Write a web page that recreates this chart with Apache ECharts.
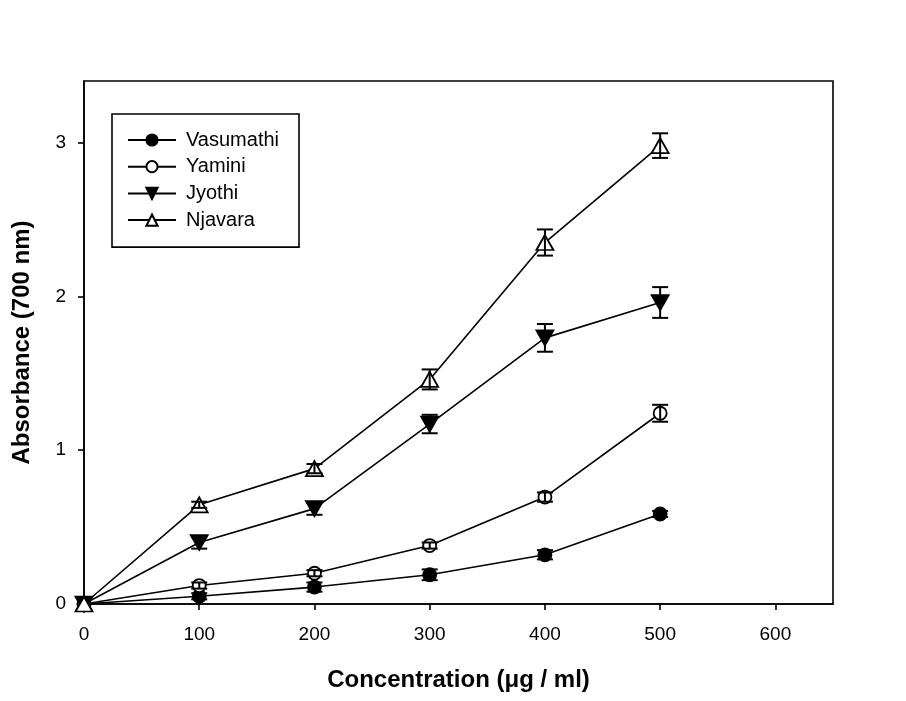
<!DOCTYPE html>
<html lang="en">
<head>
    <meta charset="UTF-8">
    <title>Absorbance vs Concentration</title>
    <script src="https://cdn.jsdelivr.net/npm/echarts@6/dist/echarts.min.js"></script>
    <style>
        html, body { margin: 0; padding: 0; background: #fff; }
        #chartmain { width: 906px; height: 701px; }
    </style>
</head>
<body>
<div id="chartmain"></div>
<script>
    // concentration (x)
    var conc = [0, 100, 200, 300, 400, 500];

    // absorbance means
    var vasumathi = [0, 0.05, 0.11, 0.19, 0.32, 0.585];
    var yamini    = [0, 0.12, 0.20, 0.38, 0.695, 1.24];
    var jyothi    = [0, 0.40, 0.62, 1.17, 1.73, 1.96];
    var njavara   = [0, 0.645, 0.88, 1.46, 2.35, 2.98];

    // error (+/-)
    var vasumathiErr = [0, 0.02, 0.03, 0.035, 0.03, 0.02];
    var yaminiErr    = [0, 0.02, 0.02, 0.02, 0.03, 0.055];
    var jyothiErr    = [0, 0.04, 0.04, 0.06, 0.09, 0.10];
    var njavaraErr   = [0, 0.02, 0.03, 0.065, 0.085, 0.08];

    var yTicks = [0, 1, 2, 3];
    var xTicks = [0, 100, 200, 300, 400, 500, 600];

    var FONT = 'Liberation Sans, Arial, sans-serif';

    function pairs(ys) {
        return conc.map(function (x, i) { return [x, ys[i]]; });
    }
    function errData(ys, es) {
        return conc.map(function (x, i) { return [x, ys[i], es[i]]; });
    }

    function renderErr(params, api) {
        var x = api.value(0), y = api.value(1), e = api.value(2);
        if (!e) return;
        var hi = api.coord([x, y + e]);
        var lo = api.coord([x, y - e]);
        var w = 8;
        var st = { stroke: '#000', lineWidth: 2 };
        return {
            type: 'group',
            children: [
                { type: 'line', shape: { x1: hi[0], y1: hi[1], x2: lo[0], y2: lo[1] }, style: st },
                { type: 'line', shape: { x1: hi[0] - w, y1: hi[1], x2: hi[0] + w, y2: hi[1] }, style: st },
                { type: 'line', shape: { x1: lo[0] - w, y1: lo[1], x2: lo[0] + w, y2: lo[1] }, style: st }
            ]
        };
    }

    function lineSeries(name, ys, symbol, fill, size, rotate) {
        return {
            name: name,
            type: 'line',
            data: pairs(ys),
            symbol: symbol,
            symbolSize: size,
            symbolRotate: rotate || 0,
            clip: false,
            z: 3,
            lineStyle: { color: '#000', width: 1.6 },
            itemStyle: { color: fill, borderColor: '#000', borderWidth: 1.8 }
        };
    }

    function errSeries(ys, es) {
        return {
            type: 'custom',
            data: errData(ys, es),
            renderItem: renderErr,
            clip: false,
            silent: true,
            z: 4
        };
    }

    var option = {
        animation: false,
        textStyle: { fontFamily: FONT, color: '#000' },
        grid: {
            left: 84, top: 81, right: 73, bottom: 97,
            outerBoundsMode: 'none',
            containLabel: false,
            show: true, borderColor: '#000', borderWidth: 1.6
        },
        legend: {
            orient: 'vertical',
            left: 112, top: 114,
            padding: [16, 20, 17, 15],
            itemWidth: 48, itemHeight: 14, itemGap: 6.7,
            borderColor: '#000', borderWidth: 1.6,
            backgroundColor: '#fff',
            textStyle: { fontSize: 20, color: '#000', fontFamily: FONT, padding: [0, 0, 0, 5] },
            data: ['Vasumathi', 'Yamini', 'Jyothi', 'Njavara']
        },
        xAxis: {
            type: 'value',
            min: 0, max: 650, interval: 100,
            name: 'Concentration (\u03bcg / ml)',
            nameLocation: 'middle',
            nameGap: 64,
            nameTextStyle: { fontSize: 24, fontWeight: 'bold', color: '#000', fontFamily: FONT },
            axisLine: { show: true, lineStyle: { color: '#000', width: 1.6 } },
            axisTick: { show: true, inside: false, length: 6, customValues: xTicks, lineStyle: { color: '#000', width: 1.6 } },
            axisLabel: { fontSize: 19, color: '#000', margin: 21, customValues: xTicks, fontFamily: FONT },
            splitLine: { show: false }
        },
        yAxis: {
            type: 'value',
            min: 0, max: 3.4, interval: 1,
            name: 'Absorbance (700 nm)',
            nameLocation: 'middle',
            nameGap: 50,
            nameTextStyle: { fontSize: 24, fontWeight: 'bold', color: '#000', fontFamily: FONT },
            axisLine: { show: true, lineStyle: { color: '#000', width: 1.6 } },
            axisTick: { show: true, inside: false, length: 6, customValues: yTicks, lineStyle: { color: '#000', width: 1.6 } },
            axisLabel: { fontSize: 19, color: '#000', margin: 18, customValues: yTicks, fontFamily: FONT },
            splitLine: { show: false }
        },
        series: [
            lineSeries('Vasumathi', vasumathi, 'circle', '#000', 13),
            lineSeries('Yamini', yamini, 'circle', '#fff', 13),
            lineSeries('Jyothi', jyothi, 'triangle', '#000', [17, 15], 180),
            lineSeries('Njavara', njavara, 'triangle', '#fff', [17, 15]),
            errSeries(vasumathi, vasumathiErr),
            errSeries(yamini, yaminiErr),
            errSeries(jyothi, jyothiErr),
            errSeries(njavara, njavaraErr)
        ]
    };

    var myChart = echarts.init(document.getElementById('chartmain'));
    myChart.setOption(option);
</script>
</body>
</html>
